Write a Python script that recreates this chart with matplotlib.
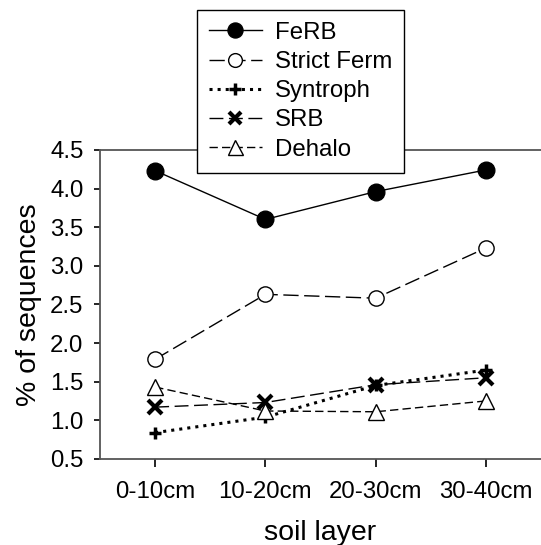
import matplotlib
matplotlib.use("Agg")
import matplotlib.pyplot as plt

plt.rcParams['font.family'] = ['Liberation Sans', 'DejaVu Sans']

# data
layers = ['0-10cm', '10-20cm', '20-30cm', '30-40cm']
ferb = [4.23, 3.60, 3.96, 4.24]
strict_ferm = [1.79, 2.63, 2.58, 3.23]
syntroph = [0.84, 1.04, 1.45, 1.65]
srb = [1.17, 1.23, 1.46, 1.55]
dehalo = [1.43, 1.12, 1.11, 1.25]

yticks = [0.5, 1.0, 1.5, 2.0, 2.5, 3.0, 3.5, 4.0, 4.5]

x = list(range(1, len(layers) + 1))

fig = plt.figure(figsize=(5.41, 5.45), dpi=100)
ax = fig.add_axes([0.185, 0.158, 0.815, 0.567])

# FeRB
ax.plot(x, ferb, '-', color='black', lw=1, marker='o', ms=12,
        mfc='black', mec='black', label='FeRB', zorder=3)
# Strict Ferm
ax.plot(x, strict_ferm, color='black', lw=1, dashes=(11, 4), marker='o', ms=11,
        mfc='white', mec='black', mew=1, label='Strict Ferm', zorder=3)
# Syntroph
ax.plot(x, syntroph, ':', color='black', lw=2.2, marker='+', ms=9,
        mew=2.5, label='Syntroph', zorder=3)
# SRB
ax.plot(x, srb, color='black', lw=1, dashes=(10, 4), marker='x', ms=10,
        mew=3, label='SRB', zorder=3)
# Dehalo
ax.plot(x, dehalo, color='black', lw=1, dashes=(6, 3), marker='^', ms=12,
        mfc='white', mec='black', mew=1, label='Dehalo', zorder=3)

ax.set_xlim(0.5, 4.5)
ax.set_ylim(0.5, 4.5)
ax.set_xticks(x)
ax.set_xticklabels(layers)
ax.set_yticks(yticks)
ax.set_yticklabels(['%.1f' % v for v in yticks])
ax.tick_params(axis='both', labelsize=17.3, colors='black', direction='out',
               width=1.2)
ax.tick_params(axis='x', length=6, pad=10)
ax.tick_params(axis='y', length=4, pad=8)
for t in ax.get_xticklines() + ax.get_yticklines():
    t.set_color('#444444')

ax.spines['right'].set_visible(False)
for s in ['left', 'bottom', 'top']:
    ax.spines[s].set_color('#555555')
    ax.spines[s].set_linewidth(1.3)

ax.set_xlabel('soil layer', fontsize=20.5, labelpad=12)
ax.set_ylabel('% of sequences', fontsize=20.5, labelpad=6)

leg = ax.legend(loc='upper left', bbox_to_anchor=(0.364, 0.982),
                bbox_transform=fig.transFigure, fontsize=17.3, frameon=True,
                fancybox=False, edgecolor='black', framealpha=1,
                borderaxespad=0, handlelength=2.2, handletextpad=0.55,
                labelspacing=0.3, borderpad=0.5, markerscale=0.9)
leg.get_frame().set_linewidth(1)

fig.savefig('out.png', dpi=100)
